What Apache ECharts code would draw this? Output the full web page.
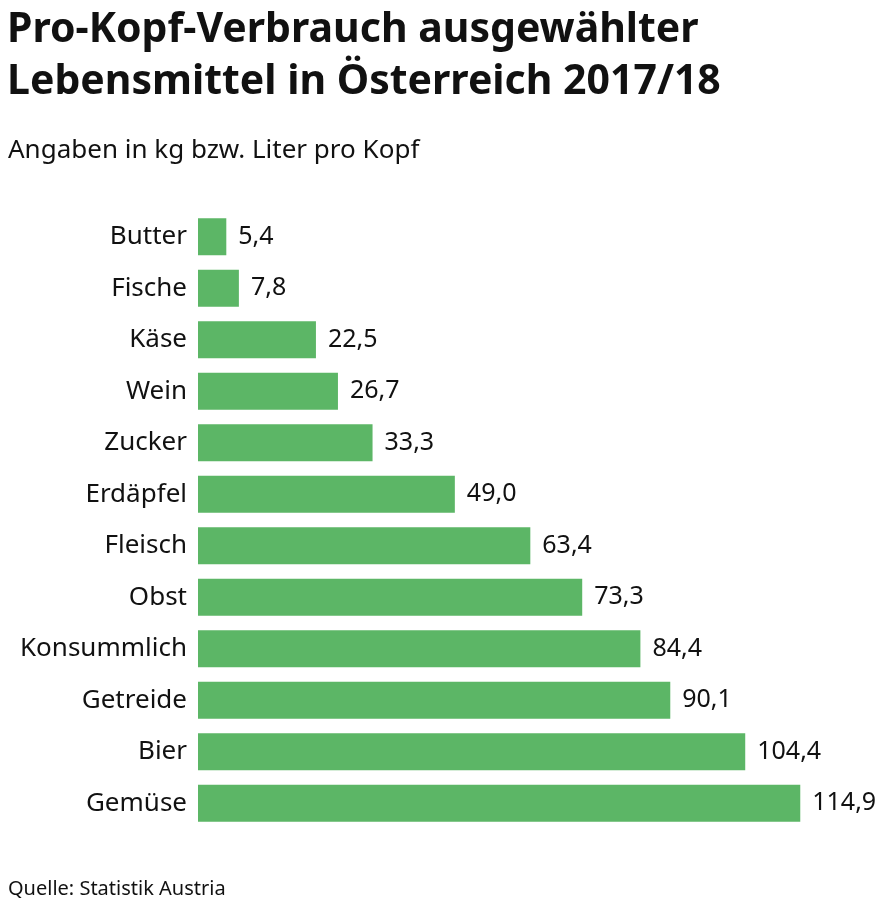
<!DOCTYPE html>
<html>
<head>
<meta charset="utf-8">
<script src="https://cdn.jsdelivr.net/npm/echarts@6/dist/echarts.min.js"></script>
<style>
  html, body { margin: 0; padding: 0; background: #fff; }
  #chart { width: 879px; height: 904px; }
</style>
</head>
<body>
<div id="chart"></div>
<script>
// Daten (von oben nach unten)
const categories = ['Butter', 'Fische', 'Käse', 'Wein', 'Zucker', 'Erdäpfel', 'Fleisch', 'Obst', 'Konsummlich', 'Getreide', 'Bier', 'Gemüse'];
const values = [5.4, 7.8, 22.5, 26.7, 33.3, 49.0, 63.4, 73.3, 84.4, 90.1, 104.4, 114.9];

const FONT = '"Noto Sans", "Open Sans", sans-serif';
const chart = echarts.init(document.getElementById('chart'));

const option = {
  backgroundColor: '#fff',
  animation: false,
  title: [
    {
      text: 'Pro-Kopf-Verbrauch ausgewählter\nLebensmittel in Österreich 2017/18',
      left: 2,
      top: -1,
      textStyle: {
        fontFamily: FONT,
        fontWeight: 'bold',
        fontSize: 41,
        lineHeight: 52,
        color: '#111',
      },
    },
    {
      text: 'Angaben in kg bzw. Liter pro Kopf',
      left: 3,
      top: 133,
      textStyle: {
        fontFamily: FONT,
        fontWeight: 'normal',
        fontSize: 26,
        color: '#111',
      },
    },
    {
      text: 'Quelle: Statistik Austria',
      left: 3,
      top: 874,
      textStyle: {
        fontFamily: FONT,
        fontWeight: 'normal',
        fontSize: 20,
        color: '#111',
      },
    },
  ],
  grid: {
    left: 198,
    top: 211,
    width: 629,
    height: 618,
  },
  xAxis: {
    type: 'value',
    min: 0,
    max: 120,
    show: false,
  },
  yAxis: {
    type: 'category',
    inverse: true,
    data: categories,
    axisLine: { show: false },
    axisTick: { show: false },
    axisLabel: {
      margin: 11,
      fontFamily: FONT,
      fontSize: 26,
      color: '#111',
    },
  },
  series: [
    {
      type: 'bar',
      data: values,
      barWidth: 37,
      itemStyle: { color: '#5cb666' },
      label: {
        show: true,
        position: 'right',
        distance: 12,
        fontFamily: FONT,
        fontSize: 25,
        color: '#111',
        formatter: p => p.value.toFixed(1).replace('.', ','),
      },
    },
  ],
};

chart.setOption(option);
</script>
</body>
</html>
